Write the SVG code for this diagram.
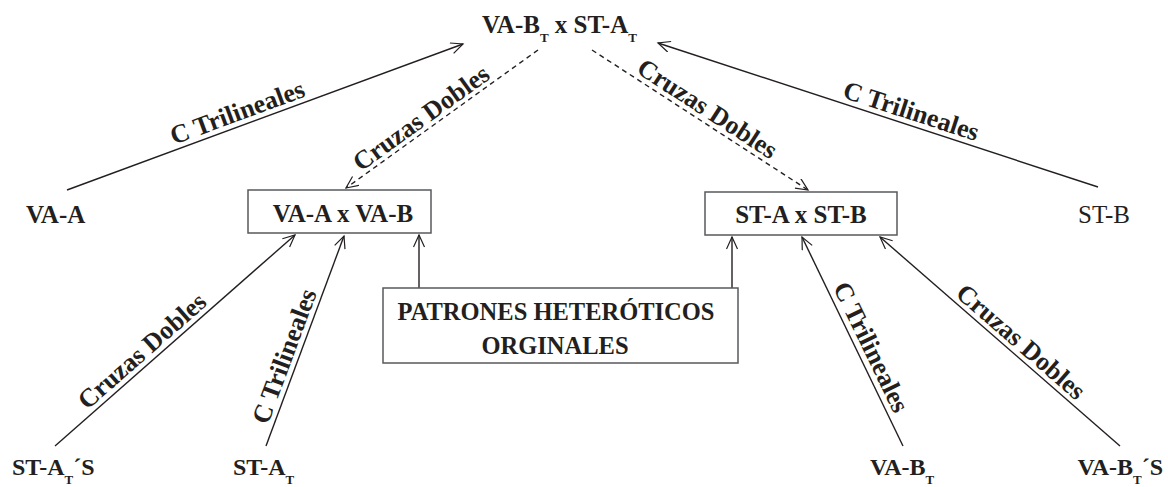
<svg xmlns="http://www.w3.org/2000/svg" width="1168" height="487" viewBox="0 0 1168 487">
<defs>
<marker id="arr" markerUnits="userSpaceOnUse" markerWidth="16" markerHeight="14" refX="13" refY="6" orient="auto">
<path d="M1,0.5 L13,6 L1,11.5" fill="none" stroke="#231f20" stroke-width="1.2"/>
</marker>
<style>
text{font-family:"Liberation Serif","Times New Roman",serif;fill:#231f20;font-size:25px}
.b{font-weight:bold}
.r{font-weight:normal}
.sub{font-size:13px}
.ln{stroke:#231f20;stroke-width:1.4;fill:none;marker-end:url(#arr)}
.dash{stroke-dasharray:5,4}
.box{fill:#fff;stroke:#58595b;stroke-width:1.5}
.lbl{text-anchor:middle;font-weight:bold;font-size:26px}
.big{font-size:24.5px}
.bot{font-size:24px}
</style>
</defs>
<rect width="1168" height="487" fill="#fff"/>
<g id="connectors">
<line class="ln" x1="67" y1="190" x2="463" y2="44"/>
<line class="ln" x1="1098" y1="187" x2="658" y2="43"/>
<line class="ln dash" x1="538" y1="50" x2="346" y2="188"/>
<line class="ln dash" x1="592" y1="50" x2="808" y2="190"/>
<line class="ln" x1="55" y1="446" x2="295" y2="235"/>
<line class="ln" x1="266" y1="446" x2="344" y2="236"/>
<line class="ln" x1="419" y1="288" x2="419" y2="235"/>
<line class="ln" x1="732" y1="288" x2="732" y2="237"/>
<line class="ln" x1="903" y1="446" x2="802" y2="237"/>
<line class="ln" x1="1120" y1="446" x2="880" y2="237"/>
<text class="lbl" transform="translate(242,125) rotate(-20.2)" y="-5">C Trilineales</text>
<text class="lbl" transform="translate(907,124) rotate(18.1)" y="-5">C Trilineales</text>
<text class="lbl" transform="translate(429,129) rotate(-35.7)" y="-5">Cruzas Dobles</text>
<text class="lbl" transform="translate(700,120) rotate(33)" y="-5">Cruzas Dobles</text>
<text class="lbl" transform="translate(151,361) rotate(-41.3)" y="-5">Cruzas Dobles</text>
<text class="lbl" transform="translate(297,361) rotate(-69.6)" y="-5">C Trilineales</text>
<text class="lbl" transform="translate(859,353) rotate(64.2)" y="-5">C Trilineales</text>
<text class="lbl" transform="translate(1012,352) rotate(41)" y="-5">Cruzas Dobles</text>
</g>
<g id="top">
<text class="b" x="482" y="33">VA-B<tspan class="sub" dy="9">T</tspan><tspan dy="-9"> x ST-A</tspan><tspan class="sub" dy="9">T</tspan></text>
</g>
<g id="va-a"><text class="b" x="26" y="223">VA-A</text></g>
<g id="st-b"><text class="r" x="1078" y="223">ST-B</text></g>
<g id="vaa-x-vab">
<rect class="box" x="248" y="190" width="183" height="43"/>
<text class="b" x="343" y="222" text-anchor="middle">VA-A x VA-B</text>
</g>
<g id="sta-x-stb">
<rect class="box" x="705" y="192" width="192" height="43"/>
<text class="b" x="801" y="223" text-anchor="middle">ST-A x ST-B</text>
</g>
<g id="patrones">
<rect class="box" x="383" y="288" width="355" height="75"/>
<text class="b big" x="556" y="320" text-anchor="middle">PATRONES HETERÓTICOS</text>
<text class="b big" x="555" y="354" text-anchor="middle">ORGINALES</text>
</g>
<g id="st-at-s"><text class="b bot" x="12" y="475">ST-A<tspan class="sub" dy="9">T</tspan><tspan dy="-9">´S</tspan></text></g>
<g id="st-at"><text class="b bot" x="233" y="475">ST-A<tspan class="sub" dy="9">T</tspan></text></g>
<g id="va-bt"><text class="b bot" x="870" y="475">VA-B<tspan class="sub" dy="9">T</tspan></text></g>
<g id="va-bt-s"><text class="b bot" x="1163" y="475" text-anchor="end">VA-B<tspan class="sub" dy="9">T</tspan><tspan dy="-9">´S</tspan></text></g>
</svg>
